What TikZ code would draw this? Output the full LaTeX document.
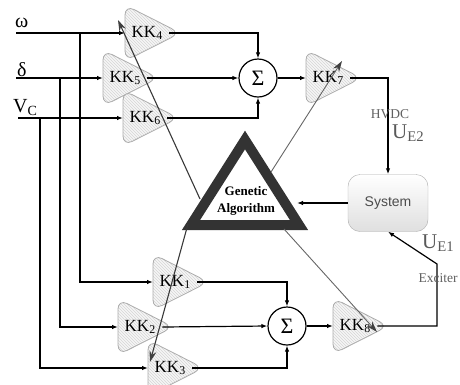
\documentclass[tikz,border=0pt]{standalone}
\usepackage{fontspec}
\setmainfont{Liberation Serif}
\newfontfamily\sysfont{Liberation Sans}
\usetikzlibrary{positioning,shapes.geometric,arrows.meta,patterns,calc,backgrounds}

\tikzset{
  kk/.style={anchor=west, minimum width=44pt, minimum height=46pt, inner sep=0pt,
    font=\fontsize{17}{17}\selectfont},
  kkshape/.style={rounded corners=10pt, draw=gray!65, line width=0.8pt,
    preaction={fill=gray!7}, pattern=north west lines, pattern color=gray!32},
  sumnode/.style={circle, draw, line width=1.2pt, minimum size=38pt, inner sep=0pt,
    font=\fontsize{22}{22}\selectfont},
  inlab/.style={anchor=base west, inner sep=0pt, font=\fontsize{20}{20}\selectfont},
  glab/.style={inner sep=0pt, text=gray!75!black, font=\fontsize{13.5}{14}\selectfont},
  ulab/.style={anchor=base west, inner sep=0pt, text=gray!70!black, font=\fontsize{21}{21}\selectfont},
  sig/.style={line width=1.2pt, -{Latex[length=6pt,width=4.5pt]}},
  ctrl/.style={gray!45!black, line width=1.1pt, -{Stealth[length=11pt,width=7pt,color=black!75]}},
}

\begin{document}
\begin{tikzpicture}[x=1pt,y=-1pt]
    \useasboundingbox (0,0) rectangle (460,384);

    % inputs
    \node[inlab] at (15,27) {ω};
    \node[inlab] at (17,76) {δ};
    \node[inlab] at (13,112) {V\textsubscript{C}};
    \coordinate (w0) at (16,33);
    \coordinate (d0) at (16,78);
    \coordinate (v0) at (18,118);
    \coordinate (wb) at (80,33);
    \coordinate (db) at (60,78);
    \coordinate (vb) at (40,118);

    % gains
    \node[kk] (kk4) at (125,33) {KK\textsubscript{4}};
    \node[kk] (kk5) at (103,78) {KK\textsubscript{5}};
    \node[kk] (kk6) at (123,118) {KK\textsubscript{6}};
    \node[kk] (kk1) at (153,282) {KK\textsubscript{1}};
    \node[kk] (kk2) at (118,327) {KK\textsubscript{2}};
    \node[kk] (kk3) at (148,368) {KK\textsubscript{3}};
    \node[kk] (kk7) at (306,78) {KK\textsubscript{7}};
    \node[kk] (kk8) at (333,326) {KK\textsubscript{8}};
    \begin{scope}[on background layer]
        \foreach \k in {1,...,8}
            \draw[kkshape] ([yshift=28pt]kk\k.west) -- ([xshift=11pt]kk\k.east)
                -- ([yshift=-28pt]kk\k.west) -- cycle;
    \end{scope}

    \node[sumnode] (sum1) at (258,78) {Σ};
    \node[sumnode] (sum2) at (287,326) {Σ};

    \node[draw=gray!65, rounded corners=12pt, minimum width=80pt, minimum height=57pt,
          top color=white, bottom color=gray!25, text=gray!60!black,
          font=\sysfont\fontsize{14}{14}\selectfont] (sys) at (388,203) {System};

    % genetic algorithm
    \draw[line width=10pt, black!80, line join=miter] (245,140) -- (191,225) -- (299,225) -- cycle;
    \node[align=center, font=\bfseries\fontsize{13}{17}\selectfont] (ga) at (246,201) {Genetic\\Algorithm};
    \coordinate (ga-r) at (297,203);

    % signal paths
    \draw[sig] (w0) -- (kk4.west);
    \draw[sig] (d0) -- (kk5.west);
    \draw[sig] (v0) -- (kk6.west);
    \draw[sig] (wb) |- (kk1.west);
    \draw[sig] (db) |- (kk2.west);
    \draw[sig] (vb) |- (kk3.west);
    \draw[sig] (kk4.east) -| (sum1.north);
    \draw[sig] (kk5.east) -- (sum1.west);
    \draw[sig] (kk6.east) -| (sum1.south);
    \draw[sig] (sum1.east) -- (kk7.west);
    \draw[sig] (kk1.east) -| (sum2.north);
    \draw[sig] (kk2.east) -- (sum2.west);
    \draw[sig] (kk3.east) -| (sum2.south);
    \draw[sig] (sum2.east) -- (kk8.west);
    \draw[sig] (kk7.east) -| (sys.north);
    \coordinate (exc) at (437,264);
    \draw[sig] (kk8.east) -| (exc) -- (sys.south);
    \draw[sig] (sys.west) -- (ga-r);

    % tuning arrows
    \coordinate (g4) at (200,199);
    \coordinate (t4) at (118,20);
    \coordinate (g3) at (188,224);
    \coordinate (t3) at (150,362);
    \coordinate (g7) at (271,172);
    \coordinate (t7) at (342,61);
    \coordinate (g8) at (284,229);
    \coordinate (t8) at (377,332);
    \draw[ctrl] (g4) -- (t4);
    \draw[ctrl] (g3) -- (t3);
    \draw[ctrl, gray!80!black, line width=0.9pt] (g7) -- (t7);
    \draw[ctrl, gray!80!black, line width=0.9pt] (g8) -- (t8);

    % labels
    \node[glab] at (390,114) {HVDC};
    \node[ulab] at (392,138) {U\textsubscript{E2}};
    \node[ulab] at (422,248) {U\textsubscript{E1}};
    \node[glab] at (438,278) {Exciter};
\end{tikzpicture}
\end{document}
